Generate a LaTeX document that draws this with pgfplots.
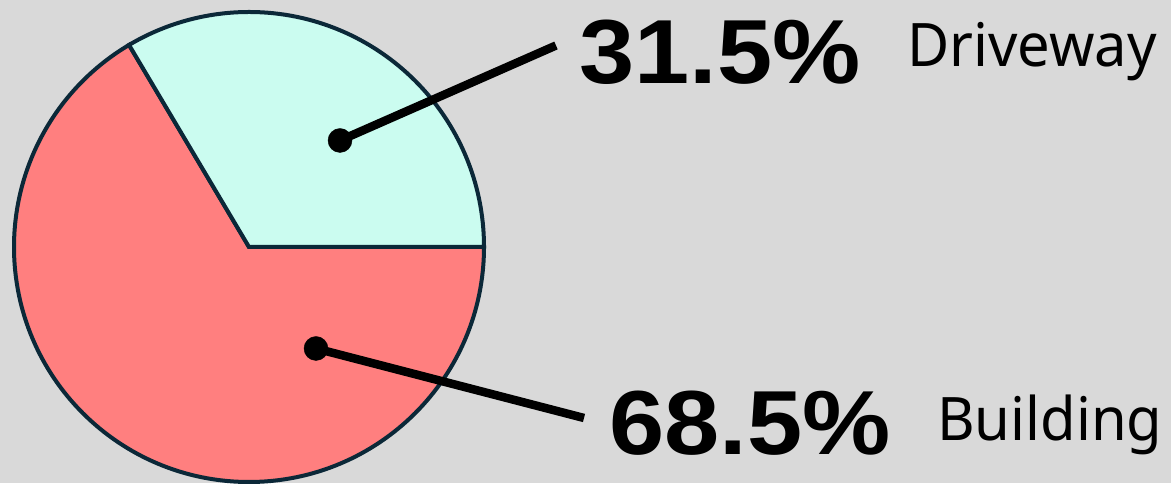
\documentclass[border=0pt]{standalone}
\usepackage{pgfplots}
\pgfplotsset{compat=1.18}
\usepackage{fontspec}
\setmainfont{Noto Sans}[FakeStretch=0.965]
\newfontfamily\numfont{Liberation Sans}[FakeStretch=1.09]
\definecolor{bg}{HTML}{D9D9D9}
\definecolor{mint}{HTML}{CBFCF0}
\definecolor{salmon}{HTML}{FF7F7F}
\definecolor{edge}{HTML}{0B2838}
\begin{document}
\begin{tikzpicture}
\begin{axis}[
  width=1171pt, height=483pt, scale only axis,
  xmin=0, xmax=1171, ymin=0, ymax=483,
  hide axis, clip=false,
]
% background
\fill[bg] (axis cs:0,0) rectangle (axis cs:1171,483);
% pie: centre (249,236), radius 235; Driveway wedge ends at 120.7 deg
\filldraw[fill=salmon, draw=edge, line width=4pt]
  (axis cs:249,236) -- (axis cs:484,236)
  arc[start angle=0, end angle=-239.3, radius=235] -- cycle;
\filldraw[fill=mint, draw=edge, line width=4pt]
  (axis cs:249,236) -- (axis cs:484,236)
  arc[start angle=0, end angle=120.7, radius=235] -- cycle;
% leader lines
\addplot[black, line width=8.5pt] coordinates {(340,342.5) (556,437.5)};
\addplot[black, line width=8.5pt] coordinates {(316,134.5) (584,65)};
\addplot[only marks, mark=*, mark size=12pt, black] coordinates {(340,342.5) (316,134.5)};
% labels
\node[anchor=base west, inner sep=0pt, font=\numfont\bfseries\fontsize{91}{91}\selectfont] at (axis cs:579,399) {31.5\%};
\node[anchor=base west, inner sep=0pt, font=\fontsize{60}{60}\selectfont] at (axis cs:907,416) {Driveway};
\node[anchor=base west, inner sep=0pt, font=\numfont\bfseries\fontsize{91}{91}\selectfont] at (axis cs:609,28) {68.5\%};
\node[anchor=base west, inner sep=0pt, font=\fontsize{60}{60}\selectfont] at (axis cs:937,42) {Building};
\end{axis}
\end{tikzpicture}
\end{document}
